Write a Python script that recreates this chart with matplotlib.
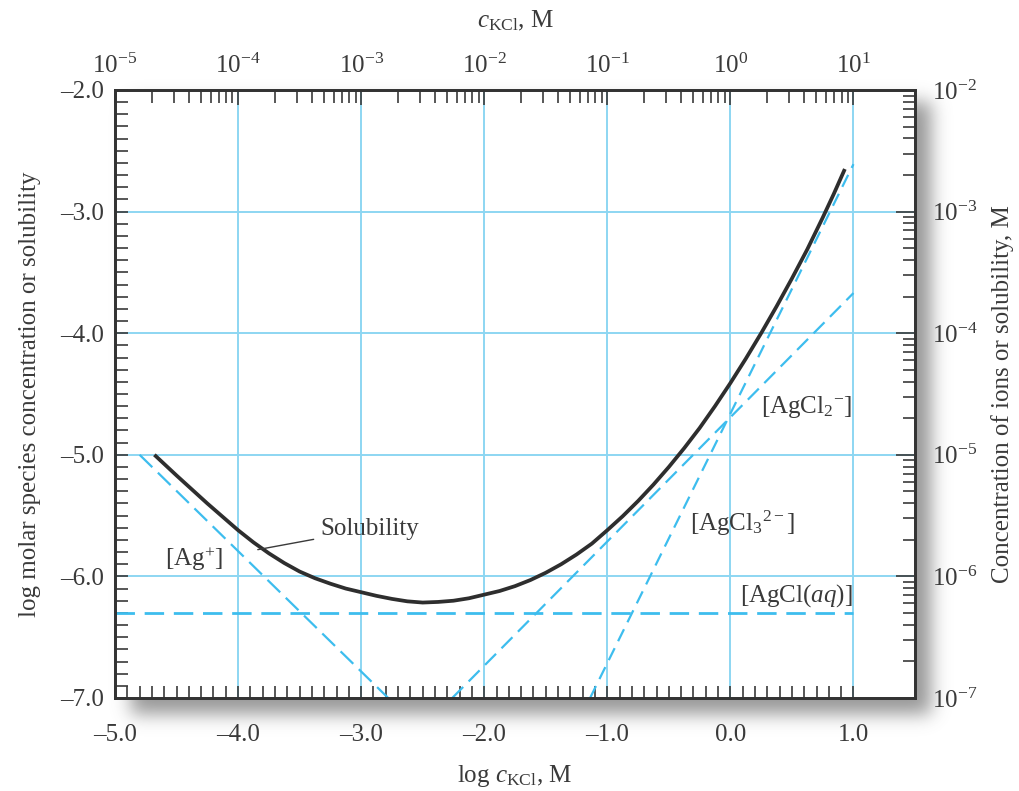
import numpy as np
import matplotlib
matplotlib.use("Agg")
import matplotlib.pyplot as plt

plt.rcParams['font.family'] = ['Liberation Serif', 'DejaVu Serif']
plt.rcParams['mathtext.fontset'] = 'custom'
plt.rcParams['mathtext.rm'] = 'Liberation Serif'
plt.rcParams['mathtext.it'] = 'Liberation Serif:italic'
plt.rcParams['mathtext.bf'] = 'Liberation Serif:bold'

# --- data (log units) ---
sol_x = [-4.68, -4.59, -4.50, -4.375, -4.25, -4.125, -4.00, -3.875, -3.75, -3.625,
         -3.50, -3.375, -3.25, -3.125, -3.00, -2.875, -2.75, -2.625, -2.50, -2.375,
         -2.25, -2.125, -2.00, -1.875, -1.75, -1.625, -1.50, -1.375, -1.25, -1.125,
         -1.00, -0.875, -0.75, -0.625, -0.50, -0.375, -0.25, -0.125, 0.00, 0.125,
         0.25, 0.375, 0.50, 0.625, 0.75, 0.84, 0.93]
sol_y = [-5.00, -5.085, -5.17, -5.285, -5.40, -5.51, -5.62, -5.72, -5.81, -5.89,
         -5.96, -6.015, -6.06, -6.10, -6.13, -6.16, -6.185, -6.205, -6.215, -6.21,
         -6.20, -6.18, -6.15, -6.12, -6.08, -6.03, -5.97, -5.90, -5.82, -5.73,
         -5.62, -5.505, -5.38, -5.245, -5.10, -4.945, -4.78, -4.60, -4.41, -4.21,
         -4.00, -3.78, -3.55, -3.31, -3.05, -2.855, -2.65]

ag_x = [-4.80, -2.78]
ag_y = [-5.00, -7.00]
aq_x = [-5.00, 1.00]
aq_y = [-6.30, -6.30]
cl2_x = [-2.26, 1.00]
cl2_y = [-7.00, -3.67]
cl3_x = [-1.14, 1.00]
cl3_y = [-7.00, -2.61]

x_major = [-5, -4, -3, -2, -1, 0, 1]
x_labels = ['\u20135.0', '\u20134.0', '\u20133.0', '\u20132.0', '\u20131.0', '0.0', '1.0']
y_major = [-7, -6, -5, -4, -3, -2]
y_labels = ['\u20137.0', '\u20136.0', '\u20135.0', '\u20134.0', '\u20133.0', '\u20132.0']
top_labels = [r'$10^{-5}$', r'$10^{-4}$', r'$10^{-3}$', r'$10^{-2}$',
              r'$10^{-1}$', r'$10^{0}$', r'$10^{1}$']
right_labels = [r'$10^{-7}$', r'$10^{-6}$', r'$10^{-5}$', r'$10^{-4}$',
                r'$10^{-3}$', r'$10^{-2}$']

W, H = 1019, 791
fig = plt.figure(figsize=(W / 100, H / 100), dpi=100)
fig.patch.set_facecolor('white')

# --- soft drop shadow behind the frame ---
L, R, T, B = 115, 915, 90, 698
mask = np.zeros((H, W))
mask[T + 12:B + 16, L + 16:R + 16] = 1.0
sig = 9.0
k = np.arange(-32, 33)
g = np.exp(-0.5 * (k / sig) ** 2)
g /= g.sum()
mask = np.apply_along_axis(lambda r: np.convolve(r, g, mode='same'), 1, mask)
mask = np.apply_along_axis(lambda c: np.convolve(c, g, mode='same'), 0, mask)
shadow = np.zeros((H, W, 4))
shadow[..., :3] = 0.42
shadow[..., 3] = mask * 0.7
fig.figimage(shadow, 0, 0, zorder=-5, origin='upper')

ax = fig.add_axes([L / W, (H - B) / H, (R - L) / W, (B - T) / H])
ax.set_facecolor('white')
ax.set_xlim(-5, 1.5)
ax.set_ylim(-7, -2)

grid_c = '#8dd6f2'
dash_c = '#3dbdee'
ink = '#3a3a3a'

for gx in x_major[1:]:
    ax.axvline(gx, color=grid_c, lw=1.4, zorder=1)
for gy in y_major[1:-1]:
    ax.axhline(gy, color=grid_c, lw=1.4, zorder=1)

ax.plot(ag_x, ag_y, color=dash_c, lw=1.6, dashes=(8, 3.5), zorder=2)
ax.plot(aq_x, aq_y, color=dash_c, lw=2.0, dashes=(7, 3.5), zorder=2)
ax.plot(cl2_x, cl2_y, color=dash_c, lw=1.6, dashes=(7, 3.5), zorder=2)
ax.plot(cl3_x, cl3_y, color=dash_c, lw=1.6, dashes=(6, 3.5), zorder=2)
ax.plot(sol_x, sol_y, color='#2e2e2e', lw=2.7, solid_capstyle='butt',
        solid_joinstyle='round', zorder=3)

fs = 18
ax.annotate('Solubility', xy=(-3.84, -5.78), xytext=(-3.33, -5.61),
            fontsize=fs, color=ink, ha='left', va='center',
            arrowprops=dict(arrowstyle='-', color=ink, lw=1.0, shrinkA=3, shrinkB=0))
ax.text(-4.36, -5.86, r'[Ag$^{+}$]', fontsize=fs, color=ink, ha='center', va='center')
ax.text(0.99, -4.61, r'[AgCl$_2{}^{-}$]', fontsize=fs, color=ink, ha='right', va='center')
ax.text(-0.33, -5.56, r'[AgCl$_3{}^{2-}$]', fontsize=fs, color=ink, ha='left', va='center')
ax.text(0.99, -6.16, r'[AgCl($\mathit{aq}$)]', fontsize=fs, color=ink, ha='right', va='center')

# --- bottom / left linear axes ---
ax.set_xticks(x_major)
ax.set_xticklabels(x_labels)
ax.set_xticks([v / 10 for v in range(-50, 11) if v % 10], minor=True)
ax.set_yticks(y_major)
ax.set_yticklabels(y_labels)
ax.set_yticks([v / 10 for v in range(-70, -19) if v % 10], minor=True)
ax.tick_params(axis='both', which='both', direction='in', color=ink, width=1.2,
               labelsize=fs, labelcolor=ink, top=False, right=False)
ax.tick_params(axis='both', which='major', length=9)
ax.tick_params(axis='both', which='minor', length=9)
ax.tick_params(axis='x', pad=19)
ax.tick_params(axis='y', pad=8)
for s in ax.spines.values():
    s.set_color('#333333')
    s.set_linewidth(1.8)
ax.set_xlabel(r'log $\mathit{c}_{\mathrm{KCl}}$, M', fontsize=fs, color=ink, labelpad=12)
ax.set_ylabel('log molar species concentration or solubility', fontsize=fs,
              color=ink, labelpad=14)

# --- top log axis (c_KCl) ---
axt = ax.twiny()
axt.set_xlim(ax.get_xlim())
axt.set_xticks(x_major)
axt.set_xticklabels(top_labels)
axt.set_xticks([d + np.log10(m) for d in range(-5, 1) for m in range(2, 10)], minor=True)
axt.tick_params(axis='x', which='both', direction='in', color=ink, width=1.2,
                labelsize=fs, labelcolor=ink, pad=8.5)
axt.tick_params(axis='x', which='major', length=11)
axt.tick_params(axis='x', which='minor', length=9)
axt.set_xlabel(r'$\mathit{c}_{\mathrm{KCl}}$, M', fontsize=fs, color=ink, labelpad=19)

# --- right log axis (concentration) ---
axr = ax.twinx()
axr.set_ylim(ax.get_ylim())
axr.set_yticks(y_major)
axr.set_yticklabels(right_labels)
axr.set_yticks([d + np.log10(m) for d in range(-7, -2) for m in range(2, 10)], minor=True)
axr.tick_params(axis='y', which='both', direction='in', color=ink, width=1.2,
                labelsize=fs, labelcolor=ink, pad=12)
axr.tick_params(axis='y', which='major', length=14)
axr.tick_params(axis='y', which='minor', length=9)
axr.set_ylabel('Concentration of ions or solubility, M', fontsize=fs, color=ink,
               labelpad=10)
for a in (axt, axr):
    for s in a.spines.values():
        s.set_color('#333333')
        s.set_linewidth(1.8)

fig.savefig('out.png', dpi=100, facecolor='white')
